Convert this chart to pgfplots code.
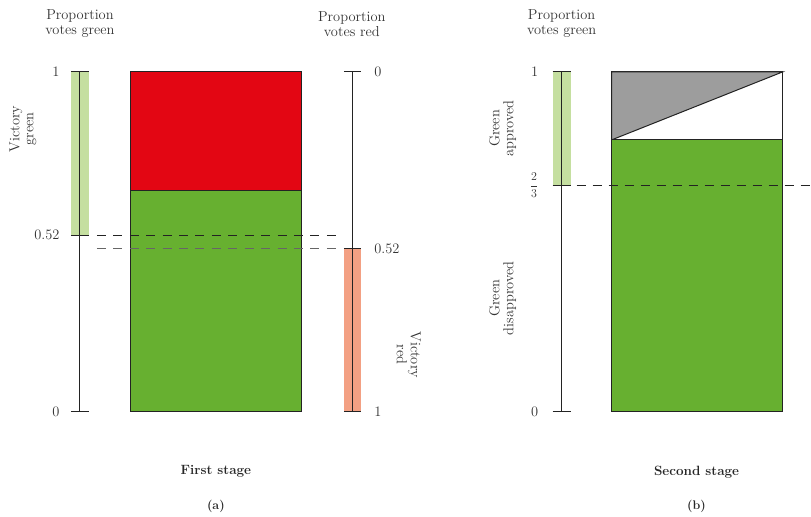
\documentclass[border=0pt]{standalone}
\usepackage{amsmath}
\usepackage{pgfplots}
\pgfplotsset{compat=1.18}
\definecolor{cred}{RGB}{227,6,19}
\definecolor{cgreen}{RGB}{103,176,48}
\definecolor{lgreen}{RGB}{197,223,160}
\definecolor{salmon}{RGB}{243,160,131}
\definecolor{cgray}{RGB}{157,157,157}
\definecolor{cline}{RGB}{35,35,35}
\tikzset{lab/.style={font=\fontsize{14.5}{17}\selectfont, text=black!80},
         bld/.style={font=\fontsize{13.5}{16}\selectfont\bfseries, text=black!85}}
\begin{document}
\begin{tikzpicture}
\begin{axis}[
  hide axis, clip=false, scale only axis,
  width=811bp, height=517bp,
  xmin=0, xmax=811, ymin=-0.30882, ymax=1.21176,
]
% invisible frame
\addplot[draw=none, forget plot] coordinates {(0,-0.30882) (811,1.21176)};
% ---------- panel (a) ----------
% bands
\addplot[fill=lgreen, draw=none] coordinates {(71,0.52) (89,0.52) (89,1) (71,1)} -- cycle;
\addplot[fill=salmon, draw=none] coordinates {(344,0) (361,0) (361,0.48) (344,0.48)} -- cycle;
% scales
\addplot[cline, line width=1bp] coordinates {(80,0) (80,1)};
\addplot[cline, line width=1bp] coordinates {(71,1) (89,1)};
\addplot[cline, line width=1bp] coordinates {(71,0.52) (89,0.52)};
\addplot[cline, line width=1bp] coordinates {(71,0) (89,0)};
\addplot[cline, line width=1bp] coordinates {(353,0) (353,1)};
\addplot[cline, line width=1bp] coordinates {(344,1) (361,1)};
\addplot[cline, line width=1bp] coordinates {(344,0.48) (361,0.48)};
\addplot[cline, line width=1bp] coordinates {(344,0) (361,0)};
% box
\addplot[fill=cred, draw=cline, line width=1bp] coordinates {(131,0.65) (302,0.65) (302,1) (131,1)} -- cycle;
\addplot[fill=cgreen, draw=cline, line width=1bp] coordinates {(131,0) (302,0) (302,0.65) (131,0.65)} -- cycle;
% dashed
\addplot[cline, line width=1bp, dash pattern=on 9bp off 7.43bp] coordinates {(97,0.52) (336,0.52)};
\addplot[black!60, line width=1bp, dash pattern=on 9bp off 7.43bp] coordinates {(97,0.48) (336,0.48)};
% labels
\node[lab, align=center] at (axis cs:80,1.1412) {Proportion\\[-2pt]votes green};
\node[lab, align=center] at (axis cs:352,1.1412) {Proportion\\[-2pt]votes red};
\node[lab, anchor=east] at (axis cs:63,1) {1};
\node[lab, anchor=east] at (axis cs:63,0.52) {0.52};
\node[lab, anchor=east] at (axis cs:63,0) {0};
\node[lab, anchor=west] at (axis cs:371,1) {0};
\node[lab, anchor=west] at (axis cs:371,0.48) {0.52};
\node[lab, anchor=west] at (axis cs:371,0) {1};
\node[lab, align=center, rotate=90] at (axis cs:23,0.8324) {Victory\\[-3pt]green};
\node[lab, align=center, rotate=-90] at (axis cs:409,0.1676) {Victory\\[-3pt]red};
\node[bld] at (axis cs:216,-0.1765) {First stage};
\node[bld, font=\fontsize{12.5}{15}\selectfont\bfseries] at (axis cs:216,-0.2794) {(a)};
% ---------- panel (b) ----------
\addplot[fill=lgreen, draw=none] coordinates {(553,0.6667) (571,0.6667) (571,1) (553,1)} -- cycle;
\addplot[cline, line width=1bp] coordinates {(562,0) (562,1)};
\addplot[cline, line width=1bp] coordinates {(553,1) (571,1)};
\addplot[cline, line width=1bp] coordinates {(553,0.6667) (571,0.6667)};
\addplot[cline, line width=1bp] coordinates {(553,0) (571,0)};
\addplot[fill=white, draw=cline, line width=1bp] coordinates {(612,0.8) (783,0.8) (783,1) (612,1)} -- cycle;
\addplot[fill=cgray, draw=cline, line width=1bp] coordinates {(612,0.8) (783,1) (612,1)} -- cycle;
\addplot[fill=cgreen, draw=cline, line width=1bp] coordinates {(612,0) (783,0) (783,0.8) (612,0.8)} -- cycle;
\addplot[cline, line width=1bp, dash pattern=on 9bp off 7bp] coordinates {(577,0.6667) (811,0.6667)};
\node[lab, align=center] at (axis cs:562,1.1412) {Proportion\\[-2pt]votes green};
\node[lab, anchor=east] at (axis cs:542,1) {1};
\node[lab, anchor=east, font=\fontsize{13}{15}\selectfont] at (axis cs:542,0.6667) {$\dfrac{2}{3}$};
\node[lab, anchor=east] at (axis cs:542,0) {0};
\node[lab, align=center, rotate=90] at (axis cs:503,0.8338) {Green\\[-3pt]approved};
\node[lab, align=center, rotate=90] at (axis cs:503,0.3338) {Green\\[-3pt]disapproved};
\node[bld] at (axis cs:697,-0.1765) {Second stage};
\node[bld, font=\fontsize{12.5}{15}\selectfont\bfseries] at (axis cs:697,-0.2794) {(b)};
\end{axis}
\end{tikzpicture}
\end{document}
